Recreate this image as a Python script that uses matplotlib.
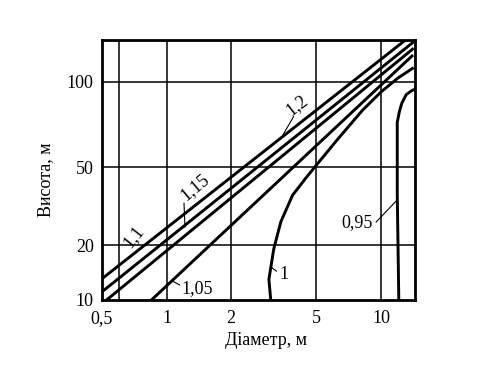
import numpy as np
import matplotlib
matplotlib.use("Agg")
import matplotlib.pyplot as plt
from matplotlib.ticker import FixedLocator, FixedFormatter, NullLocator

plt.rcParams['font.family'] = ['Liberation Serif', 'DejaVu Serif']

# ---------------- data ----------------
x_ticks = [0.5, 1, 2, 5, 10]
x_tick_labels = ["0,5", "1", "2", "5", "10"]
x_grid = [0.6, 1, 2, 5, 10]
y_ticks = [10, 20, 50, 100]
y_tick_labels = ["10", "20", "50", "100"]
y_grid = [20, 50, 100]
x_limits = [0.5, 14.4]
y_limits = [10, 140]

x_label = "Діаметр, м"
y_label = "Висота, м"

curve_names = ["1,2", "1,15", "1,1", "1,05", "1", "0,95"]

d_120 = [0.5, 13.0]
h_120 = [13.1, 140]
d_115 = [0.5, 14.2]
h_115 = [11.1, 138]
d_110 = [0.525, 14.2]
h_110 = [10, 131]
d_105 = [0.85, 14.1]
h_105 = [10, 124]
d_100 = [3.06, 3.00, 3.16, 3.41, 3.87, 4.48, 5.0, 6.28, 8.2, 10.0, 12.0, 14.2]
h_100 = [10, 13.0, 19.1, 26.4, 36.1, 44.4, 51, 62.8, 79.4, 92, 103, 112]
d_095 = [12.1, 11.9, 11.9, 12.2, 12.5, 13.1, 13.9, 14.4]
h_095 = [10, 37, 72, 79, 84, 90, 93, 94]

# calibration of the (hand-drawn) height axis of the original chart
y_scale_logs = [1.0, np.log10(20), np.log10(50), 2.0, np.log10(140)]
y_scale_pos = [0.0, 0.21, 0.51, 0.84, 1.0]


def _pw(x, xs, ys):
    x = np.asarray(x, dtype=float)
    out = np.interp(x, xs, ys)
    lo = x < xs[0]
    hi = x > xs[-1]
    out = np.where(lo, ys[0] + (x - xs[0]) * (ys[1] - ys[0]) / (xs[1] - xs[0]), out)
    out = np.where(hi, ys[-1] + (x - xs[-1]) * (ys[-1] - ys[-2]) / (xs[-1] - xs[-2]), out)
    return out


def y_fwd(h):
    h = np.asarray(h, dtype=float)
    lh = np.log10(np.where(h > 0, h, 1e-300))
    return _pw(lh, y_scale_logs, y_scale_pos)


def y_inv(v):
    return 10.0 ** _pw(v, y_scale_pos, y_scale_logs)


# ---------------- figure ----------------
fig = plt.figure(figsize=(4.94, 3.75), dpi=100)
ax = fig.add_axes([0.2065, 0.2, 0.6336, 0.6933])

ax.set_xscale('log')
ax.set_yscale('function', functions=(y_fwd, y_inv))
ax.set_xlim(*x_limits)
ax.set_ylim(*y_limits)

for xg in x_grid:
    ax.axvline(xg, color='black', lw=1.1, zorder=1)
for yg in y_grid:
    ax.axhline(yg, color='black', lw=1.1, zorder=1)

lw = 2.1
for d, h in [(d_120, h_120), (d_115, h_115), (d_110, h_110), (d_105, h_105),
             (d_100, h_100), (d_095, h_095)]:
    ax.plot(d, h, color='black', lw=lw, solid_capstyle='butt',
            solid_joinstyle='round', zorder=3, clip_on=True)

ax.xaxis.set_major_locator(FixedLocator(x_ticks))
ax.xaxis.set_major_formatter(FixedFormatter(x_tick_labels))
ax.xaxis.set_minor_locator(NullLocator())
ax.yaxis.set_major_locator(FixedLocator(y_ticks))
ax.yaxis.set_major_formatter(FixedFormatter(y_tick_labels))
ax.yaxis.set_minor_locator(NullLocator())
ax.tick_params(axis='both', length=0, labelsize=13)
ax.tick_params(axis='x', pad=7)
ax.tick_params(axis='y', pad=6)

for sp in ax.spines.values():
    sp.set_linewidth(2.0)

fs = 13
tr = ax.transAxes
ax.text(0.623, 0.750, curve_names[0], transform=tr, rotation=38,
        ha='center', va='center', fontsize=fs)
ax.plot([0.578, 0.612], [0.635, 0.705], transform=tr, color='black', lw=0.8)
ax.text(0.298, 0.434, curve_names[1], transform=tr, rotation=40,
        ha='center', va='center', fontsize=fs)
ax.plot([0.262, 0.265], [0.372, 0.280], transform=tr, color='black', lw=0.8)
ax.text(0.101, 0.243, curve_names[2], transform=tr, rotation=52,
        ha='center', va='center', fontsize=fs)
ax.text(0.305, 0.045, curve_names[3], transform=tr,
        ha='center', va='center', fontsize=fs)
ax.plot([0.248, 0.226], [0.058, 0.072], transform=tr, color='black', lw=0.8)
ax.text(0.580, 0.097, curve_names[4], transform=tr,
        ha='center', va='center', fontsize=fs)
ax.plot([0.541, 0.557], [0.126, 0.111], transform=tr, color='black', lw=0.8)
ax.text(0.815, 0.298, curve_names[5], transform=tr,
        ha='center', va='center', fontsize=fs)
ax.plot([0.876, 0.940], [0.300, 0.381], transform=tr, color='black', lw=0.8)

fig.text(0.538, 0.091, x_label, ha='center', va='center', fontsize=fs)
fig.text(0.093, 0.52, y_label, ha='center', va='center', rotation=90, fontsize=fs)

fig.savefig("out.png", dpi=100)
